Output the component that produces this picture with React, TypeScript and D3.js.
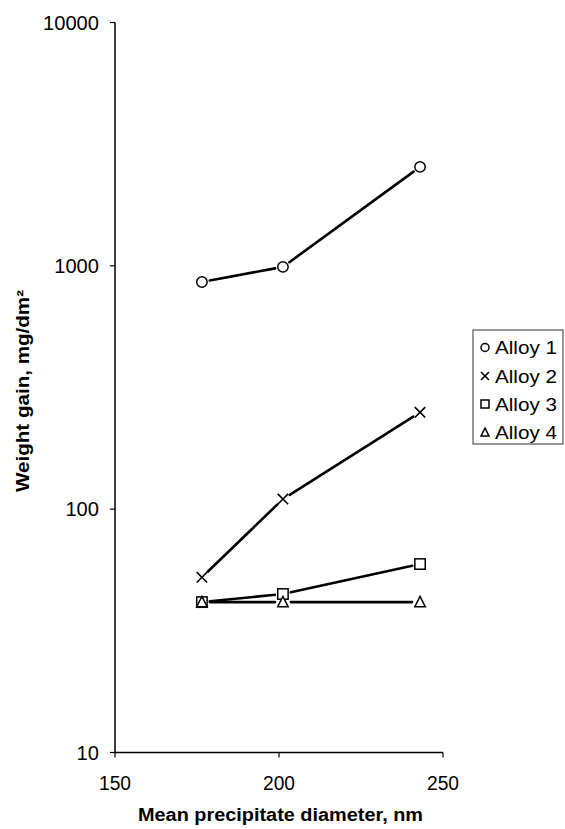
import React from 'react';
import * as d3 from 'd3';

const diameters = [176.5, 201.2, 243];
const alloy1 = [858, 990, 2550];
const alloy2 = [52.5, 110, 250];
const alloy3 = [41.5, 44.8, 59.5];
const alloy4 = [41.5, 41.5, 41.5];
const seriesNames = ['Alloy 1', 'Alloy 2', 'Alloy 3', 'Alloy 4'];
const seriesShapes = ['circle', 'cross', 'square', 'triangle'];
const xTicks = [150, 200, 250];
const yTicks = [10, 100, 1000, 10000];

const FONT = '"Liberation Sans", Arial, Helvetica, sans-serif';

function Marker({ shape, cx, cy, s }: { shape: string; cx: number; cy: number; s: number }) {
  const common = { fill: '#fff', stroke: '#000', strokeWidth: 1.5 };
  if (shape === 'circle') return <circle cx={cx} cy={cy} r={s} {...common} />;
  if (shape === 'square') return <rect x={cx - s} y={cy - s} width={2 * s} height={2 * s} {...common} />;
  if (shape === 'triangle') {
    const h = s * 1.1;
    return <path d={`M${cx},${cy - h}L${cx + s},${cy + h * 0.8}L${cx - s},${cy + h * 0.8}Z`} {...common} />;
  }
  return (
    <path
      d={`M${cx - s},${cy - s}L${cx + s},${cy + s}M${cx - s},${cy + s}L${cx + s},${cy - s}`}
      stroke="#000"
      strokeWidth={1.6}
      fill="none"
    />
  );
}

export default function App() {
  const x = d3.scaleLinear().domain([150, 250]).range([115, 443]);
  const y = d3.scaleLog().domain([10, 10000]).range([752.5, 22.5]);
  const series = [alloy1, alloy2, alloy3, alloy4];
  const gap = 8;

  const segments: { x1: number; y1: number; x2: number; y2: number; key: string }[] = [];
  series.forEach((vals, si) => {
    for (let i = 0; i < vals.length - 1; i++) {
      const ax = x(diameters[i]), ay = y(vals[i]);
      const bx = x(diameters[i + 1]), by = y(vals[i + 1]);
      const len = Math.hypot(bx - ax, by - ay);
      const ux = (bx - ax) / len, uy = (by - ay) / len;
      segments.push({ x1: ax + ux * gap, y1: ay + uy * gap, x2: bx - ux * gap, y2: by - uy * gap, key: `${si}-${i}` });
    }
  });

  const legendRowsY = [347.5, 376, 404, 432.5];

  return (
    <svg width={565} height={829} style={{ position: 'absolute', left: 0, top: 0, background: '#fff' }} fontFamily={FONT}>
      <rect width={565} height={829} fill="#fff" />
      {/* axes */}
      <line x1={115} x2={115} y1={y(10000)} y2={y(10)} stroke="#000" strokeWidth={1.5} />
      <line x1={115} x2={443} y1={y(10)} y2={y(10)} stroke="#000" strokeWidth={1.5} />
      {yTicks.map((t) => (
        <g key={t}>
          <line x1={110} x2={115} y1={y(t)} y2={y(t)} stroke="#000" strokeWidth={1.2} />
          <text x={99} y={y(t) + 7} fontSize={19.5} textAnchor="end" fill="#000" textLength={String(t).length * 11.2} lengthAdjust="spacingAndGlyphs">{t}</text>
        </g>
      ))}
      {xTicks.map((t) => (
        <g key={t}>
          <line x1={x(t)} x2={x(t)} y1={y(10)} y2={y(10) + 5} stroke="#000" strokeWidth={1.2} />
          <text x={x(t)} y={790} fontSize={19.5} textAnchor="middle" fill="#000" textLength={32} lengthAdjust="spacingAndGlyphs">{t}</text>
        </g>
      ))}
      <text x={280.5} y={821} fontSize={18} fontWeight="bold" textAnchor="middle" textLength={285} lengthAdjust="spacingAndGlyphs">
        Mean precipitate diameter, nm
      </text>
      <text transform="translate(29,391) rotate(-90)" fontSize={18} fontWeight="bold" textAnchor="middle" textLength={202} lengthAdjust="spacingAndGlyphs">
        Weight gain, mg/dm²
      </text>
      {/* lines */}
      {segments.map((s) => (
        <line key={s.key} x1={s.x1} y1={s.y1} x2={s.x2} y2={s.y2} stroke="#000" strokeWidth={2.6} strokeLinecap="round" />
      ))}
      {/* markers */}
      {series.map((vals, si) =>
        vals.map((v, i) => (
          <Marker key={`${si}-${i}`} shape={seriesShapes[si]} cx={x(diameters[i])} cy={y(v)} s={5.2} />
        ))
      )}
      {/* legend */}
      <rect x={473} y={330} width={90} height={114} fill="#fff" stroke="#333" strokeWidth={1} />
      {seriesNames.map((n, i) => (
        <g key={n}>
          <Marker shape={seriesShapes[i]} cx={485} cy={legendRowsY[i]} s={4} />
          <text x={495} y={legendRowsY[i] + 6.5} fontSize={18.5} fill="#000" textLength={62} lengthAdjust="spacingAndGlyphs">{n}</text>
        </g>
      ))}
    </svg>
  );
}
